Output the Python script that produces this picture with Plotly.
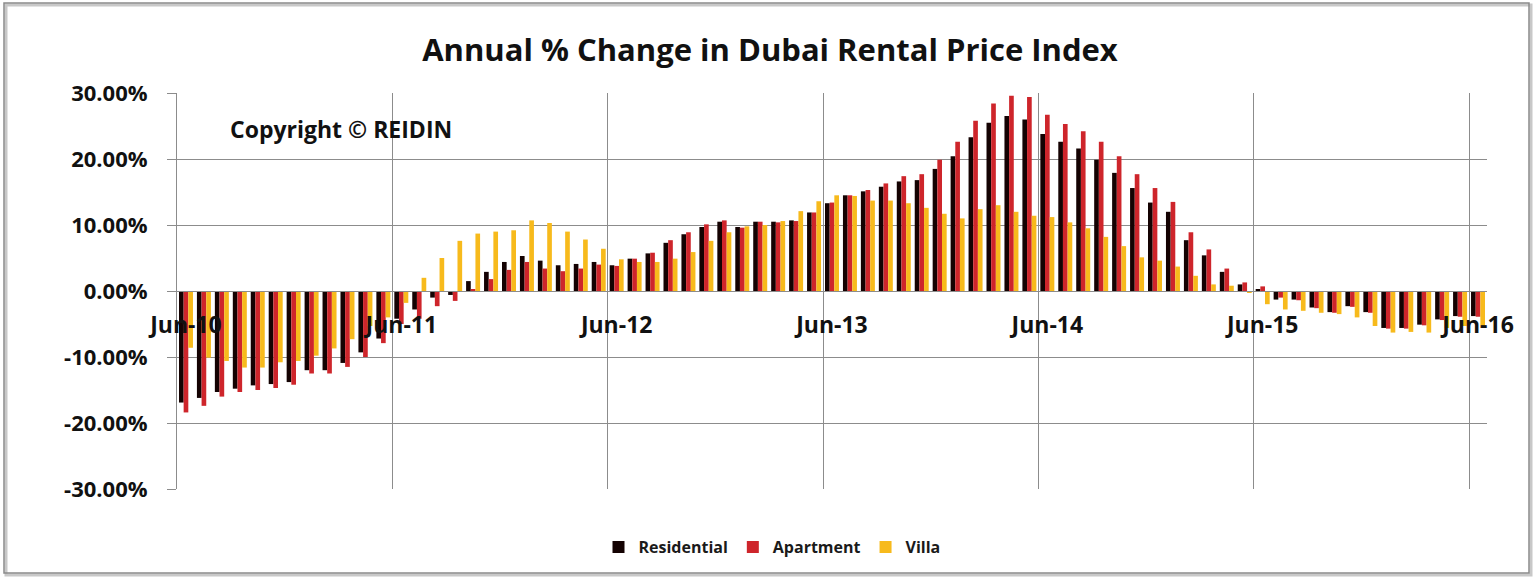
import pandas as pd
import plotly.graph_objects as go

# monthly categories Jun-10 .. Jun-16
months = list(pd.date_range("2010-06-01", "2016-06-01", freq="MS").strftime("%b-%y"))

# annual % change (in %)
residential = [
    -16.9, -16.2, -15.3, -14.8, -14.3, -14.1, -13.8,
    -12.0, -12.0, -10.9, -9.3, -7.2, -4.2, -2.8, -1.0, -0.6, 1.5, 2.9, 4.4,
    5.3, 4.6, 3.9, 4.1, 4.4, 3.9, 4.9, 5.7, 7.3, 8.6, 9.7, 10.5,
    9.7, 10.5, 10.5, 10.7, 11.9, 13.3, 14.5, 15.1, 15.8, 16.6, 16.8, 18.5,
    20.4, 23.3, 25.5, 26.5, 26.0, 23.8, 22.6, 21.6, 19.9, 17.9, 15.6, 13.4,
    12.0, 7.7, 5.4, 2.9, 1.0, 0.3, -1.3, -1.3, -2.5, -3.2, -2.3, -3.2,
    -5.6, -5.6, -5.1, -4.3, -3.8, -3.8,
]
apartment = [
    -18.4, -17.4, -16.0, -15.3, -15.0, -14.7, -14.2,
    -12.5, -12.5, -11.5, -10.0, -7.9, -5.0, -4.2, -2.3, -1.5, 0.2, 1.8, 3.2,
    4.4, 3.4, 3.0, 3.4, 4.0, 3.8, 4.9, 5.8, 7.7, 8.9, 10.1, 10.7,
    9.6, 10.5, 10.4, 10.6, 11.9, 13.4, 14.5, 15.3, 16.3, 17.4, 17.7, 19.9,
    22.6, 25.8, 28.4, 29.6, 29.4, 26.7, 25.3, 24.2, 22.6, 20.4, 17.7, 15.6,
    13.5, 8.9, 6.3, 3.4, 1.3, 0.7, -1.0, -1.4, -2.6, -3.3, -2.4, -3.3,
    -5.7, -5.7, -5.2, -4.4, -3.9, -3.9,
]
villa = [
    -8.6, -10.1, -10.6, -11.6, -11.6, -10.8, -10.6,
    -9.8, -8.7, -7.3, -5.3, -4.0, -1.8, 2.0, 5.0, 7.6, 8.7, 9.0, 9.2,
    10.7, 10.3, 9.0, 7.8, 6.4, 4.8, 4.4, 4.4, 4.9, 5.9, 7.6, 8.9,
    9.8, 10.0, 10.6, 12.1, 13.6, 14.5, 14.4, 13.7, 13.7, 13.3, 12.6, 11.7,
    11.0, 12.4, 13.0, 12.0, 11.4, 11.2, 10.4, 9.5, 8.2, 6.8, 5.1, 4.6,
    3.7, 2.3, 1.0, 0.8, -0.2, -2.0, -2.8, -3.0, -3.3, -3.5, -4.0, -5.3,
    -6.3, -6.2, -6.3, -5.6, -5.3, -5.6,
]

y_ticks = [-0.3, -0.2, -0.1, 0.0, 0.1, 0.2, 0.3]
y_ticktext = ["-30.00%", "-20.00%", "-10.00%", "0.00%", "10.00%", "20.00%", "30.00%"]

W, H = 1537, 579
L, R, T, B = 177, 50, 93, 90
FONT = "Open Sans"
GRID = "#8c8c8c"


def px_x(p):
    return (p - L) / (W - L - R)


def px_y(p):
    return (H - B - p) / (H - T - B)


fig = go.Figure()
fig.add_trace(go.Bar(x=months, y=[v / 100 for v in residential], name="Residential",
                     marker=dict(color="#140202", line=dict(width=0))))
fig.add_trace(go.Bar(x=months, y=[v / 100 for v in apartment], name="Apartment",
                     marker=dict(color="#CE252B", line=dict(width=0))))
fig.add_trace(go.Bar(x=months, y=[v / 100 for v in villa], name="Villa",
                     marker=dict(color="#F7BA1C", line=dict(width=0))))

fig.update_layout(
    width=W, height=H,
    margin=dict(l=L, r=R, t=T, b=B, autoexpand=False),
    paper_bgcolor="white", plot_bgcolor="white",
    barmode="group", bargap=0.22, bargroupgap=0,
    title=dict(text="Annual % Change in Dubai Rental Price Index",
               x=770 / W, xref="container", xanchor="center",
               y=1 - 50 / H, yref="container", yanchor="middle",
               font=dict(family=FONT, size=31, color="#111111", weight="bold")),
    legend=dict(orientation="h", x=772 / W, xref="container", xanchor="center",
                y=1 - 547 / H, yref="container", yanchor="middle",
                font=dict(family=FONT, size=16, color="#1a1a1a", weight="bold"),
                itemwidth=30, tracegroupgap=0),
    xaxis=dict(type="category", tickson="boundaries", dtick=12, tick0=0,
               showgrid=True, gridcolor=GRID, gridwidth=1,
               anchor="free", position=0.5, automargin=False,
               showline=True, linecolor=GRID, linewidth=1,
               ticks="", ticklabelstandoff=13, tickangle=0,
               tickfont=dict(family=FONT, size=23, color="#111111", weight="bold"),
               range=[-0.5, 72.5]),
    yaxis=dict(range=[-0.3, 0.3], tickvals=y_ticks, ticktext=y_ticktext,
               showgrid=True, gridcolor=GRID, gridwidth=1, zeroline=False,
               showline=True, linecolor=GRID, linewidth=1, automargin=False,
               ticks="outside", ticklen=9, tickcolor=GRID,
               ticklabelstandoff=15,
               tickfont=dict(family=FONT, size=22, color="#111111", weight="bold")),
    annotations=[dict(text="Copyright \u00a9 REIDIN", xref="paper", yref="paper",
                      x=px_x(228), y=px_y(129), xanchor="left", yanchor="middle",
                      showarrow=False,
                      font=dict(family=FONT, size=23, color="#111111", weight="bold"))],
    shapes=[
        dict(type="rect", xref="paper", yref="paper",
             x0=px_x(6), x1=px_x(1531), y0=px_y(575), y1=px_y(5),
             line=dict(color="#c8c8c8", width=3), layer="below"),
        dict(type="rect", xref="paper", yref="paper",
             x0=px_x(4), x1=px_x(1529), y0=px_y(573), y1=px_y(3),
             line=dict(color="#8a8a8a", width=1.5), layer="below"),
    ],
)

fig.write_html("out.html", config={"displayModeBar": False},
               post_script="document.body.style.margin='0';")
